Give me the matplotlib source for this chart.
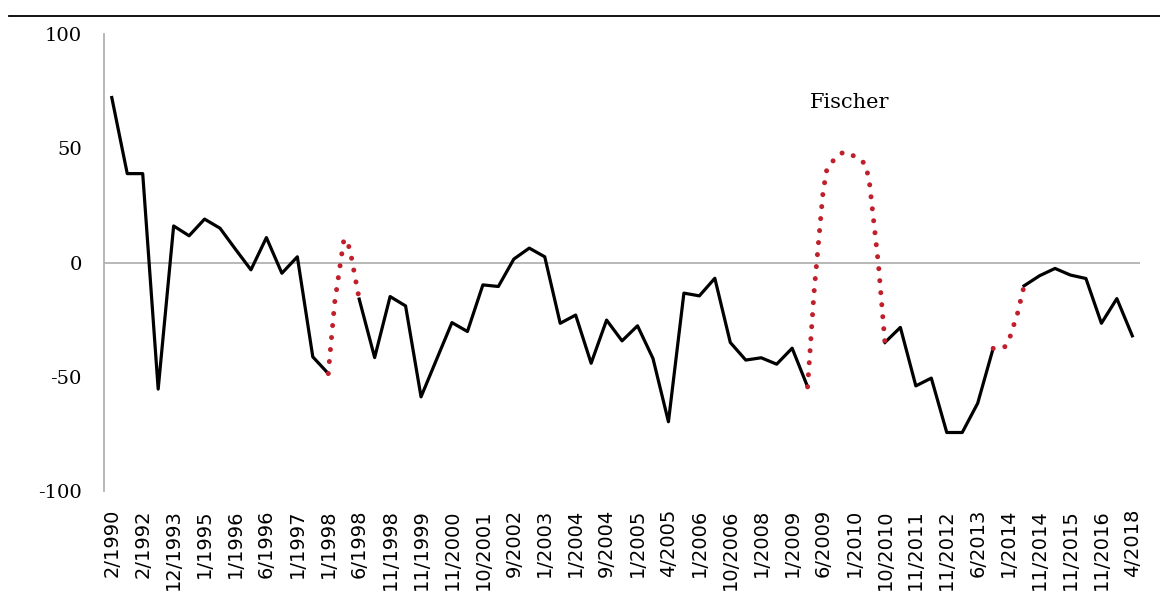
import numpy as np
import matplotlib
matplotlib.use("Agg")
import matplotlib.pyplot as plt
from matplotlib.path import Path
from matplotlib.lines import Line2D

# one value per observation, every other one is labelled on the x axis
values = [72.2, 38.9, 38.9, -55.4, 16.0, 11.7, 19.0, 15.0, 5.8, -3.2,
          10.9, -4.7, 2.5, -41.3, -48.6, 9.5, -16.0, -41.6, -14.9, -19.0,
          -58.8, -42.5, -26.3, -30.2, -9.8, -10.5, 1.5, 6.3, 2.5, -26.6,
          -23.0, -44.1, -25.2, -34.3, -27.7, -42.0, -69.7, -13.4, -14.6, -6.9,
          -35.0, -42.7, -41.7, -44.5, -37.5, -54.4, 31.0, 46.5, 46.5, 35.0,
          -35.0, -28.4, -54.0, -50.6, -74.4, -74.4, -61.6, -37.6, -34.5, -10.2,
          -5.8, -2.6, -5.5, -7.0, -26.6, -15.8, -32.1]

tick_labels = ["2/1990", "2/1992", "12/1993", "1/1995", "1/1996", "6/1996",
               "1/1997", "1/1998", "6/1998", "11/1998", "11/1999", "11/2000",
               "10/2001", "9/2002", "1/2003", "1/2004", "9/2004", "1/2005",
               "4/2005", "1/2006", "10/2006", "1/2008", "1/2009", "6/2009",
               "1/2010", "10/2010", "11/2011", "11/2012", "6/2013", "1/2014",
               "11/2014", "11/2015", "11/2016", "4/2018"]

# stretches drawn as the dotted red "Fischer" curve (first, last index)
fischer_spans = [(14, 16), (45, 50), (57, 59)]

RED = "#C0202B"
GREY = "#ABABAB"

y = np.array(values, dtype=float)
x = np.arange(len(y))

black = y.copy()
for a, b in fischer_spans:
    black[a + 1:b] = np.nan


def smooth_path(xs, ys):
    # Excel-like smoothed line: cubic Bezier through each point
    pts = np.column_stack([xs, ys])
    n = len(pts)
    verts = [pts[0]]
    codes = [Path.MOVETO]
    for i in range(n - 1):
        p0 = pts[max(i - 1, 0)]
        p1 = pts[i]
        p2 = pts[i + 1]
        p3 = pts[min(i + 2, n - 1)]
        c1 = p1 + (p2 - p0) / 6
        c2 = p2 - (p3 - p1) / 6
        verts += [c1, c2, p2]
        codes += [Path.CURVE4] * 3
    return Path(verts, codes)


fig = plt.figure(figsize=(11.6, 6.02), dpi=100)
ax = fig.add_axes([0.0897, 0.1844, 0.8931, 0.7591])

ax.axhline(0, color=GREY, lw=1.2, zorder=1)
ax.plot(x, black, color="black", lw=2.3, zorder=3)

for a, b in fischer_spans:
    curve = smooth_path(x[a:b + 1], y[a:b + 1]).to_polygons(closed_only=False)[0]
    ax.plot(curve[:, 0], curve[:, 1], color=RED, lw=3.6,
            linestyle=(0, (0.01, 2.4)), dash_capstyle="round", zorder=4)

ax.text(47.7, 70, "Fischer", fontsize=15, family="DejaVu Serif",
        ha="center", va="center")

ax.set_xlim(-0.5, len(y) - 0.5)
ax.set_ylim(-100, 100)
ax.set_yticks([-100, -50, 0, 50, 100])
ax.set_yticklabels(["-100", "-50", "0", "50", "100"], family="DejaVu Serif",
                   fontsize=14)
ax.set_xticks(x[::2])
ax.set_xticklabels(tick_labels, rotation=90, fontsize=14)
ax.tick_params(axis="y", length=0, pad=16)
ax.tick_params(axis="x", length=0, pad=13)

for s in ["top", "right", "bottom"]:
    ax.spines[s].set_visible(False)
ax.spines["left"].set_color(GREY)
ax.spines["left"].set_linewidth(1.2)

fig.add_artist(Line2D([0.0078, 1.0], [0.9734, 0.9734], color="black", lw=1.3,
                      transform=fig.transFigure))

fig.savefig("out.png", dpi=100)
